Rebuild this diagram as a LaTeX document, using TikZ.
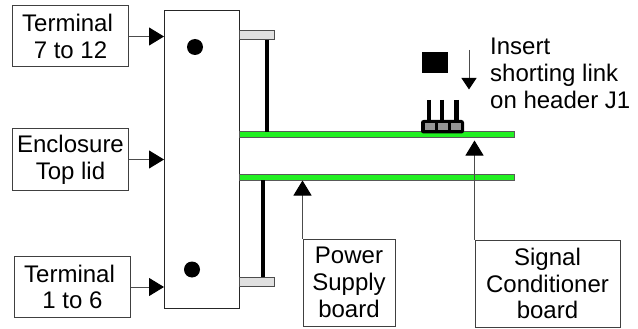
\documentclass[tikz,border=0pt]{standalone}
\usepackage{fontspec}
\setmainfont{Liberation Sans}
\usetikzlibrary{arrows.meta}
\definecolor{pcbgreen}{RGB}{34,240,34}
\tikzset{
  labeltext/.style={align=center,inner sep=0pt,font=\fontsize{24}{26.7}\selectfont},
  labelbox/.style={labeltext,draw=black!75,line width=1pt,fill=white},
  part/.style={inner sep=0pt,outer sep=0pt,anchor=north west},
  board/.style={part,draw=black!65,line width=1pt,fill=pcbgreen,minimum height=5.5pt},
  standoff/.style={part,draw=black!70,line width=1pt,fill=black!12,minimum width=35pt,minimum height=9.5pt},
  post/.style={line width=4pt,black},
  pin/.style={line width=4.5pt,black},
  contact/.style={part,fill=black!42,minimum width=9.5pt,minimum height=7pt},
  arrow/.style={draw=black!70,line width=1pt,-{Triangle[length=15pt,width=18pt,black]},shorten >=0.5pt}
}
\begin{document}
\begin{tikzpicture}[x=1pt,y=-1pt]
      \useasboundingbox (0,0) rectangle (638,329);
      % enclosure and boards
      \node[part,draw=black!85,line width=1pt,fill=white,minimum width=75pt,minimum height=297.5pt] (cover) at (164.5,10.5) {};
      \node[board,minimum width=274.5pt] (sigboard) at (239.5,132) {};
      \node[board,minimum width=274.5pt] (psboard) at (239.5,174.5) {};
      \node[standoff] (topmount) at (239.5,30.5) {};
      \node[standoff] (botmount) at (239.5,277) {};
      \draw[post] (267,40) -- (267,132);
      \draw[post] (263,180) -- (263,277);
      \fill (195,47) circle (8);
      \fill (192,269.5) circle (8);
      % header J1
      \draw[pin] (429,100) -- (429,121);
      \draw[pin] (442,100) -- (442,121);
      \draw[pin] (456.5,100) -- (456.5,121);
      \node[part,fill=black,rounded corners=2.5pt,minimum width=43pt,minimum height=13.5pt] (header) at (421,120) {};
      \node[contact] (pin1) at (425,123) {};
      \node[contact] (pin2) at (438,123) {};
      \node[contact] (pin3) at (451,123) {};
      \node[part,fill=black,minimum width=25.5pt,minimum height=21.5pt] (link) at (422,52) {};
      % labels
      \node[labelbox,minimum width=116pt,minimum height=61pt] (term712) at (70.5,36.5) {Terminal\hspace*{6pt}\\7 to 12};
      \node[labelbox,minimum width=116pt,minimum height=61pt] (toplid) at (70.5,159.5) {Enclosure\\Top lid};
      \node[labelbox,minimum width=116pt,minimum height=60.5pt] (term16) at (72.5,287) {Terminal\hspace*{6pt}\\1 to 6};
      \node[labelbox,minimum width=92pt,minimum height=87pt] (power) at (349,282.5) {Power\\Supply\\board};
      \node[labelbox,minimum width=145pt,minimum height=87pt] (signal) at (547.5,283.5) {Signal\\Conditioner\\board};
      \node[labeltext,align=left,anchor=north west] (insert) at (490,38) {Insert\\shorting link\\on header J1};
      % arrows
      \draw[arrow] (term712.east) -- (cover.west |- term712.east);
      \draw[arrow] (toplid.east) -- (cover.west |- toplid.east);
      \draw[arrow] (term16.east) -- (cover.west |- term16.east);
      \draw[arrow] (power.north west) -- (psboard.south -| power.north west);
      \draw[arrow,shorten >=3pt] (signal.north west) -- (sigboard.south -| signal.north west);
      \coordinate (downstart) at (469,50);
      \coordinate (downend) at (469,90);
      \draw[arrow,-{Triangle[length=11.5pt,width=15pt,black]}] (downstart) -- (downend);
    \end{tikzpicture}
\end{document}
